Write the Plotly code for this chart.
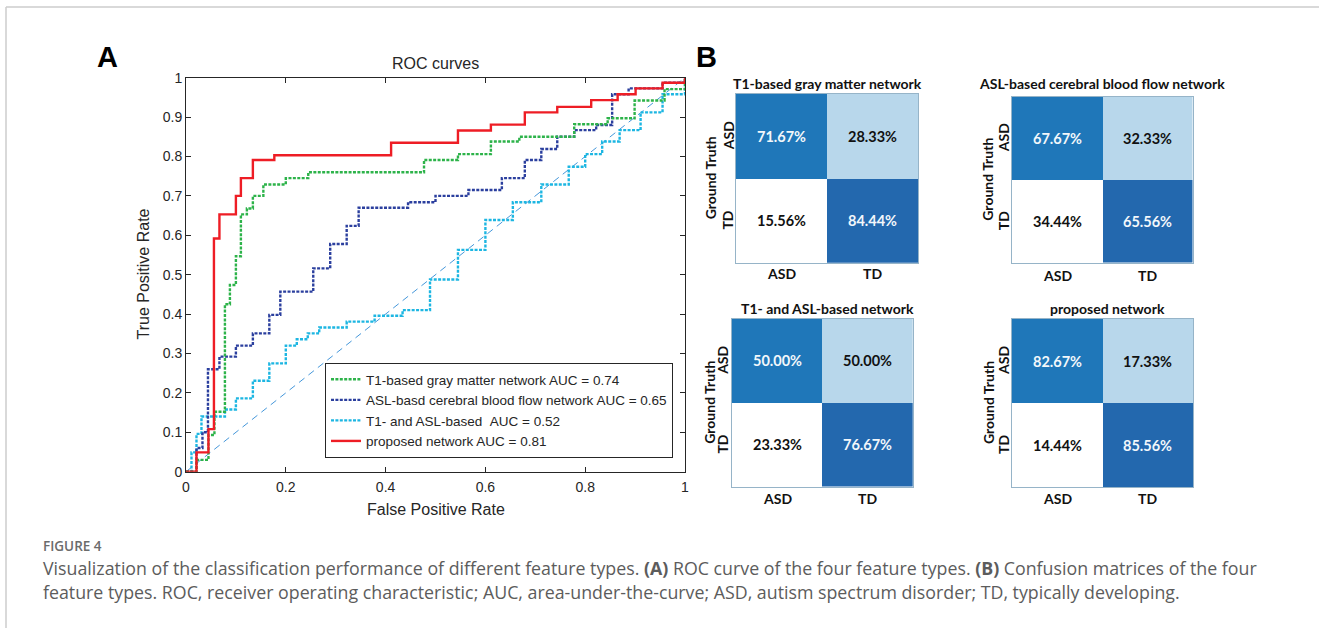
import plotly.graph_objects as go

W, H = 1319, 628


def px(x):
    return x / W


def py(y):
    return 1 - y / H


# ---------------- ROC data (step vertices: FPR where the jump happens, TPR after it)
t1_fpr = [0, 0.021, 0.045, 0.057, 0.078, 0.088, 0.100, 0.110, 0.122, 0.134, 0.155, 0.200,
          0.245, 0.477, 0.545, 0.611, 0.668, 0.778, 0.845, 0.899, 0.959, 1.0]
t1_tpr = [0, 0.030, 0.093, 0.152, 0.425, 0.474, 0.547, 0.653, 0.668, 0.700, 0.729, 0.745,
          0.760, 0.791, 0.806, 0.838, 0.850, 0.882, 0.897, 0.942, 0.971, 1.0]

asl_fpr = [0, 0.021, 0.033, 0.044, 0.067, 0.100, 0.134, 0.167, 0.189, 0.255, 0.289, 0.322,
           0.346, 0.445, 0.500, 0.566, 0.633, 0.679, 0.712, 0.744, 0.778, 0.822, 0.854,
           0.887, 0.955, 1.0]
asl_tpr = [0, 0.060, 0.100, 0.260, 0.292, 0.320, 0.351, 0.398, 0.457, 0.516, 0.578, 0.624,
           0.670, 0.684, 0.700, 0.715, 0.745, 0.791, 0.819, 0.850, 0.867, 0.880, 0.958,
           0.973, 0.987, 1.0]

comb_fpr = [0, 0.011, 0.021, 0.031, 0.078, 0.100, 0.134, 0.167, 0.200, 0.222, 0.244, 0.267,
            0.322, 0.378, 0.434, 0.489, 0.545, 0.600, 0.655, 0.712, 0.767, 0.800, 0.834,
            0.869, 0.911, 0.955, 1.0]
comb_tpr = [0, 0.049, 0.096, 0.140, 0.158, 0.186, 0.231, 0.275, 0.320, 0.336, 0.351, 0.366,
            0.381, 0.396, 0.410, 0.488, 0.563, 0.639, 0.684, 0.729, 0.774, 0.806, 0.838,
            0.867, 0.912, 0.958, 1.0]

prop_fpr = [0, 0.021, 0.045, 0.056, 0.067, 0.100, 0.110, 0.134, 0.177, 0.411, 0.545, 0.611,
            0.679, 0.744, 0.812, 0.865, 0.901, 0.955, 1.0]
prop_tpr = [0, 0.049, 0.108, 0.592, 0.653, 0.700, 0.745, 0.791, 0.803, 0.835, 0.866, 0.881,
            0.912, 0.926, 0.943, 0.958, 0.973, 0.987, 1.0]

chance = [0, 1]

roc_names = [
    "T1-based gray matter network AUC = 0.74",
    "ASL-basd cerebral blood flow network AUC = 0.65",
    "T1- and ASL-based \u00a0AUC = 0.52",
    "proposed network AUC = 0.81",
]

x_ticks = [0, 0.2, 0.4, 0.6, 0.8, 1]
x_ticktext = ["0", "0.2", "0.4", "0.6", "0.8", "1"]
y_ticks = [0, 0.1, 0.2, 0.3, 0.4, 0.5, 0.6, 0.7, 0.8, 0.9, 1]
y_ticktext = ["0", "0.1", "0.2", "0.3", "0.4", "0.5", "0.6", "0.7", "0.8", "0.9", "1"]

# ---------------- confusion matrices (rows: ground truth ASD, TD; cols: predicted ASD, TD)
classes = ["ASD", "TD"]
cm_titles = ["T1-based gray matter network", "ASL-based cerebral blood flow network",
             "T1- and ASL-based network", "proposed network"]
cm_t1 = [[71.67, 28.33], [15.56, 84.44]]
cm_asl = [[67.67, 32.33], [34.44, 65.56]]
cm_comb = [[50.00, 50.00], [23.33, 76.67]]
cm_prop = [[82.67, 17.33], [14.44, 85.56]]
cm_values = [cm_t1, cm_asl, cm_comb, cm_prop]

fig = go.Figure()

ROC_FONT = "Liberation Sans, Arial, sans-serif"
CM_FONT = "Lato, Open Sans, sans-serif"
TXT = "#262626"

fig.add_trace(go.Scatter(x=chance, y=chance, mode="lines", showlegend=False,
                         line=dict(color="#4597da", width=1, dash="7px,5px"), hoverinfo="skip"))

styles = [
    (t1_fpr, t1_tpr, "#2db34a", "3px,1.4px", 2.4),
    (asl_fpr, asl_tpr, "#2b3f9e", "3px,1.4px", 2.4),
    (comb_fpr, comb_tpr, "#1db6e2", "3px,1.4px", 2.4),
    (prop_fpr, prop_tpr, "#ee1d25", "solid", 2.4),
]
draw_order = [2, 1, 0, 3]
for i in draw_order:
    xs, ys, col, dash, w = styles[i]
    fig.add_trace(go.Scatter(x=xs, y=ys, mode="lines", line_shape="hv", name=roc_names[i],
                             legendrank=i + 1,
                             line=dict(color=col, width=w, dash=dash), hoverinfo="skip"))

# ROC axes
fig.update_layout(
    xaxis=dict(domain=[px(186), px(685)], range=[0, 1], tickvals=x_ticks, ticktext=x_ticktext,
               ticks="inside", ticklen=5, tickcolor=TXT, showline=True, linecolor=TXT,
               linewidth=1, mirror="allticks", showgrid=False, zeroline=False, automargin=False,
               tickfont=dict(family=ROC_FONT, size=14, color=TXT), ticklabelstandoff=2,
               anchor="y"),
    yaxis=dict(domain=[py(471.7), py(77.7)], range=[0, 1], tickvals=y_ticks, ticktext=y_ticktext,
               ticks="inside", ticklen=5, tickcolor=TXT, showline=True, linecolor=TXT,
               linewidth=1, mirror="allticks", showgrid=False, zeroline=False, automargin=False,
               tickfont=dict(family=ROC_FONT, size=14, color=TXT), anchor="x"),
)

ann = []


def add_text(text, x, y, size, color, family, xref="paper", yref="paper", angle=0,
             xanchor="center", yanchor="middle", weight=None):
    f = dict(family=family, size=size, color=color)
    if weight is not None:
        f["weight"] = weight
    ann.append(dict(text=text, x=x, y=y, xref=xref, yref=yref, showarrow=False,
                    xanchor=xanchor, yanchor=yanchor, textangle=angle, font=f))


add_text("ROC curves", px(435.5), py(64), 16, TXT, ROC_FONT)
add_text("False Positive Rate", px(435.5), py(509), 16, TXT, ROC_FONT)
add_text("True Positive Rate", px(143), py(274.5), 16, TXT, ROC_FONT, angle=-90)
add_text("<b>A</b>", px(108), py(57.5), 29, "#000", ROC_FONT)
add_text("<b>B</b>", px(706), py(57.5), 29, "#000", ROC_FONT)

# confusion matrix layout: (x0, x1, ytop, ybottom, title_cx, title_y, xlab_y, ylab_x, gt_x)
cm_boxes = [
    (736, 918, 94, 262.7, 827, 83.5, 273.5, 728, 710),
    (1012, 1192.5, 96.7, 262.7, 1102, 83.5, 275, 1003, 988),
    (731.7, 913, 319, 486.5, 827, 308, 498, 723, 710),
    (1012, 1193, 319, 487, 1107, 308, 498, 1003, 988),
]
cell_codes = [[0, 1], [2, 3]]
cell_scale = [[0, "#1f77b9"], [1 / 3, "#b8d7eb"], [2 / 3, "#ffffff"], [1, "#2368ae"]]
text_cols = [["#f2f7fb", "#111111"], ["#111111", "#f2f7fb"]]
BORDER = "#96b4c8"

for k in range(4):
    x0, x1, yt, yb, tcx, ty, xly, ylx, gtx = cm_boxes[k]
    xa = "x%d" % (k + 2)
    ya = "y%d" % (k + 2)
    fig.add_trace(go.Heatmap(z=cell_codes, x=classes, y=classes, xaxis=xa, yaxis=ya,
                             colorscale=cell_scale, zmin=0, zmax=3, showscale=False,
                             hoverinfo="skip"))
    fig.layout["xaxis%d" % (k + 2)] = dict(domain=[px(x0), px(x1)], anchor=ya, range=[-0.5, 1.5],
                                           showticklabels=False, ticks="", showgrid=False,
                                           zeroline=False, showline=True, mirror=True,
                                           automargin=False, linecolor=BORDER, linewidth=1)
    fig.layout["yaxis%d" % (k + 2)] = dict(domain=[py(yb), py(yt)], anchor=xa, range=[1.5, -0.5],
                                           showticklabels=False, ticks="", showgrid=False,
                                           zeroline=False, showline=True, mirror=True,
                                           automargin=False, linecolor=BORDER, linewidth=1)
    vals = cm_values[k]
    for r in range(2):
        for c in range(2):
            add_text("<b>%.2f%%</b>" % vals[r][c], classes[c], classes[r], 14.5, text_cols[r][c],
                     CM_FONT, xref=xa, yref=ya)
    add_text("<b>%s</b>" % cm_titles[k], px(tcx), py(ty), 14, "#111", CM_FONT)
    for c in range(2):
        add_text("<b>%s</b>" % classes[c], classes[c], py(xly), 14, "#111", CM_FONT, xref=xa)
        add_text("<b>%s</b>" % classes[c], px(ylx), classes[c], 14, "#111", CM_FONT,
                 yref=ya, angle=-90)
    add_text("<b>Ground Truth</b>", px(gtx), py((yt + yb) / 2), 14, "#111", CM_FONT, angle=-90)

# caption
CAP_FONT = "Open Sans, sans-serif"
add_text("FIGURE 4", px(41), py(545.5), 13.5, "#6b6b6b", CAP_FONT, xanchor="left", weight=600)
add_text("Visualization of the classification performance of different feature types. "
         "<b>(A)</b> ROC curve of the four feature types. <b>(B)</b> Confusion matrices of the four",
         px(41), py(568), 17.8, "#5c5c5c", CAP_FONT, xanchor="left")
add_text("feature types. ROC, receiver operating characteristic; AUC, area-under-the-curve; "
         "ASD, autism spectrum disorder; TD, typically developing.",
         px(41), py(591.5), 17.8, "#5c5c5c", CAP_FONT, xanchor="left")

shapes = [
    dict(type="line", xref="paper", yref="paper", x0=px(6), x1=1, y0=py(7), y1=py(7),
         line=dict(color="#cccccc", width=1.5)),
    dict(type="line", xref="paper", yref="paper", x0=px(6), x1=px(6), y0=py(7), y1=0,
         line=dict(color="#cccccc", width=1.5)),
]

fig.update_layout(
    width=W, height=H, margin=dict(l=0, r=0, t=0, b=0, pad=0, autoexpand=False),
    paper_bgcolor="white", plot_bgcolor="white",
    annotations=ann, shapes=shapes,
    legend=dict(x=px(673), xanchor="right", y=py(458), yanchor="bottom",
                bgcolor="white", bordercolor=TXT, borderwidth=1,
                font=dict(family=ROC_FONT, size=13.5, color=TXT),
                tracegroupgap=0, itemwidth=30),
)

fig.write_html("out.html", config={"displayModeBar": False},
               post_script="document.body.style.margin='0';document.body.style.overflow='hidden';")
